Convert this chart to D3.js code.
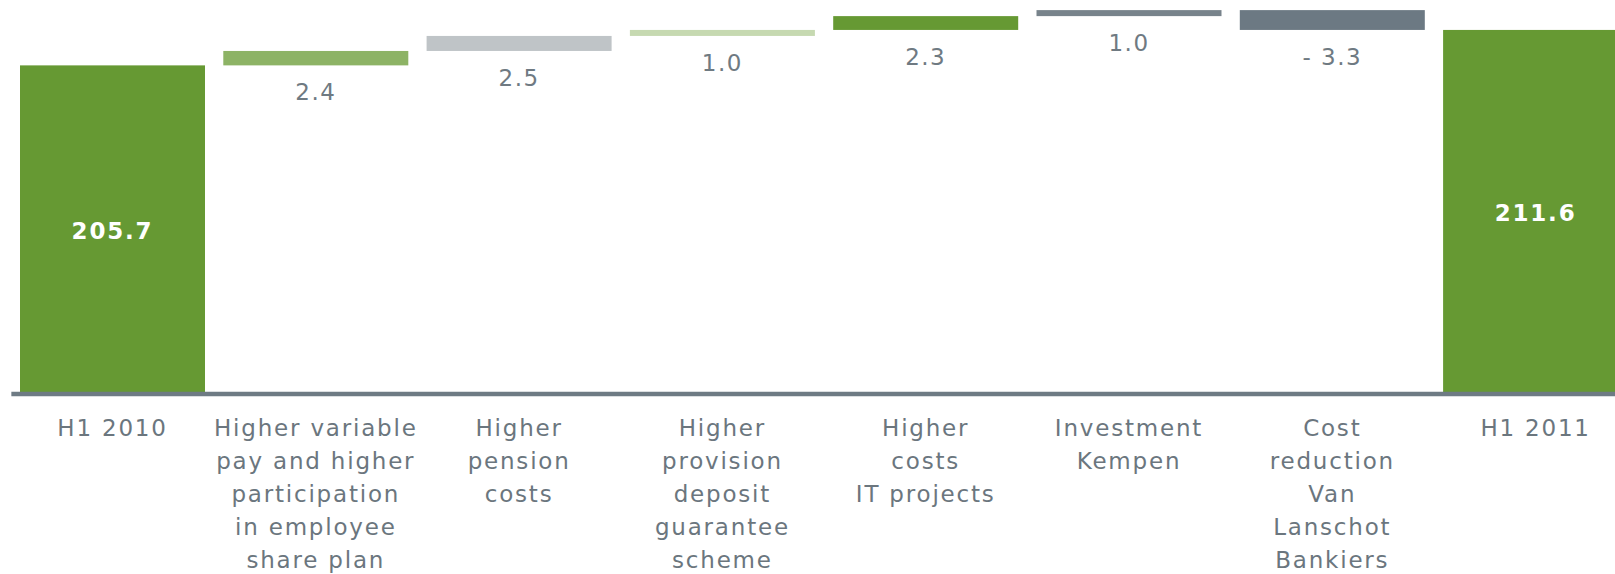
<!DOCTYPE html>
<html>
<head>
<meta charset="utf-8">
<script src="https://cdn.jsdelivr.net/npm/d3@7"></script>
<style>
  html, body { margin: 0; padding: 0; background: #fff; }
  svg { display: block; font-family: "DejaVu Sans", Verdana, sans-serif; }
</style>
</head>
<body>
<div id="chart"></div>
<script>
// categories (line breaks as in the slide)
var categories = [
  "H1 2010",
  "Higher variable\npay and higher\nparticipation\nin employee\nshare plan",
  "Higher\npension\ncosts",
  "Higher\nprovision\ndeposit\nguarantee\nscheme",
  "Higher\ncosts\nIT projects",
  "Investment\nKempen",
  "Cost\nreduction\nVan\nLanschot\nBankiers",
  "H1 2011"
];
var values = [205.7, 2.4, 2.5, 1.0, 2.3, 1.0, -3.3, 211.6];
var kinds = ["total", "delta", "delta", "delta", "delta", "delta", "delta", "total"];
var valueLabels = ["205.7", "2.4", "2.5", "1.0", "2.3", "1.0", "- 3.3", "211.6"];
var yDomain = [151, 216];

var barColors = ["#669933", "#8db365", "#bfc4c7", "#c6d9b1", "#669933", "#78838b", "#6c7983", "#669933"];

var W = 1615, H = 574;

var svg = d3.select("#chart").append("svg")
  .attr("width", W)
  .attr("height", H);

// running totals for the waterfall
var running = 0;
var bars = categories.map(function(c, i) {
  var start, end;
  if (kinds[i] === "total") {
    start = yDomain[0];
    end = values[i];
    running = values[i];
  } else {
    start = running;
    end = running + values[i];
    running = end;
  }
  return { name: c, start: start, end: end, label: valueLabels[i], kind: kinds[i], i: i };
});

var x = d3.scaleBand()
  .domain(categories)
  .range([10.85, 1637.25])
  .paddingInner(0.09)
  .paddingOuter(0.045);

var y = d3.scaleLinear()
  .domain(yDomain)
  .range([394, 3.5]);

svg.selectAll(".bar")
  .data(bars)
  .enter().append("rect")
  .attr("class", "bar")
  .attr("x", function(d) { return x(d.name); })
  .attr("width", x.bandwidth())
  .attr("y", function(d) { return y(Math.max(d.start, d.end)); })
  .attr("height", function(d) { return Math.abs(y(d.start) - y(d.end)); })
  .attr("fill", function(d) { return barColors[d.i]; });

// axis
var xAxis = d3.axisBottom(x).tickSize(0).tickPadding(0);
var gx = svg.append("g")
  .attr("transform", "translate(0," + (y(yDomain[0]) - 0.5) + ")")
  .call(xAxis);

gx.select(".domain")
  .attr("stroke", "#6e7b84")
  .attr("stroke-width", 4.5);

gx.selectAll(".tick text").each(function(d) {
  var t = d3.select(this);
  t.text(null)
    .attr("y", 0)
    .attr("dy", null)
    .attr("fill", "#6b767e")
    .style("font-size", "23px")
    .style("letter-spacing", "1.8px")
    .style("font-family", "'DejaVu Sans', Verdana, sans-serif");
  d.split("\n").forEach(function(line, k) {
    t.append("tspan")
      .attr("x", 0)
      .attr("y", 42 + k * 33)
      .text(line);
  });
});

// labels inside the total bars
svg.selectAll(".total-label")
  .data(bars.filter(function(d) { return d.kind === "total"; }))
  .enter().append("text")
  .attr("class", "total-label")
  .attr("x", function(d) { return x(d.name) + x.bandwidth() / 2; })
  .attr("y", function(d) { return (y(d.start) + y(d.end)) / 2; })
  .attr("dy", "0.4em")
  .attr("text-anchor", "middle")
  .attr("fill", "#ffffff")
  .style("font-weight", "bold")
  .style("font-size", "23px")
  .style("letter-spacing", "1.8px")
  .text(function(d) { return d.label; });

// labels under the delta bars
svg.selectAll(".delta-label")
  .data(bars.filter(function(d) { return d.kind === "delta"; }))
  .enter().append("text")
  .attr("class", "delta-label")
  .attr("x", function(d) { return x(d.name) + x.bandwidth() / 2; })
  .attr("y", function(d) { return y(Math.min(d.start, d.end)) + 35; })
  .attr("text-anchor", "middle")
  .attr("fill", "#6f7a82")
  .style("font-size", "23px")
  .style("letter-spacing", "1.5px")
  .text(function(d) { return d.label; });
</script>
</body>
</html>
